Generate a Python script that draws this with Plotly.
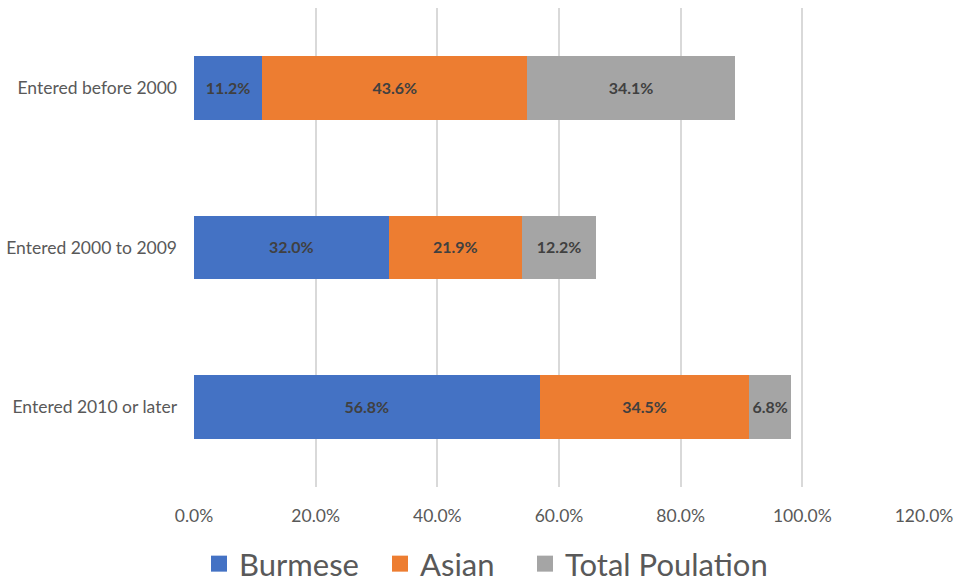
import plotly.graph_objects as go

categories = ["Entered before 2000", "Entered 2000 to 2009", "Entered 2010 or later"]
burmese = [11.2, 32.0, 56.8]
asian = [43.6, 21.9, 34.5]
total_population = [34.1, 12.2, 6.8]
tick_values = [0, 20, 40, 60, 80, 100, 120]
tick_labels = ["0.0%", "20.0%", "40.0%", "60.0%", "80.0%", "100.0%", "120.0%"]

series = [
    ("Burmese", burmese, "#4472C4", 136),
    ("Asian", asian, "#ED7D31", 100),
    ("Total Poulation", total_population, "#A5A5A5", 210),
]

fig = go.Figure()
for name, values, color, _ in series:
    fig.add_trace(go.Bar(
        name=name,
        y=categories,
        x=values,
        orientation="h",
        marker=dict(color=color, line=dict(width=0)),
        text=[f"{v:.1f}%" for v in values],
        textposition="inside",
        insidetextanchor="middle",
        textangle=0,
        textfont=dict(family="Lato", size=16.5, color="#404040", weight="bold"),
        hoverinfo="skip",
        showlegend=False,
        legendgroup=name,
    ))

# Legend entries with larger square swatches
for name, _, color, entry_width in series:
    fig.add_trace(go.Scatter(
        name=name,
        x=[None],
        y=[None],
        mode="markers",
        marker=dict(symbol="square", size=19, color=color),
        legendgroup=name,
        legendwidth=entry_width,
        hoverinfo="skip",
    ))

fig.update_layout(
    barmode="stack",
    bargap=0.6,
    width=966,
    height=583,
    margin=dict(l=194, r=42, t=8, b=96),
    paper_bgcolor="white",
    plot_bgcolor="white",
    font=dict(family="Lato", color="#595959"),
    uniformtext=dict(minsize=8, mode="show"),
    xaxis=dict(
        range=[0, 120],
        tickvals=tick_values,
        ticktext=tick_labels,
        showgrid=True,
        gridcolor="#D9D9D9",
        gridwidth=1.5,
        zeroline=False,
        showline=False,
        tickfont=dict(size=17.5, color="#595959"),
        ticks="",
        ticklabelstandoff=16,
        automargin=False,
    ),
    yaxis=dict(
        categoryorder="array",
        categoryarray=categories[::-1],
        showgrid=False,
        zeroline=False,
        showline=False,
        ticks="",
        tickfont=dict(size=17.5, color="#595959"),
        ticklabelstandoff=16,
        automargin=False,
    ),
    legend=dict(
        orientation="h",
        x=0.206,
        xanchor="left",
        xref="container",
        y=0.0326,
        yanchor="middle",
        yref="container",
        font=dict(size=31, color="#595959"),
        traceorder="normal",
        itemwidth=30,
        itemsizing="trace",
    ),
)

fig.write_html("out.html")
